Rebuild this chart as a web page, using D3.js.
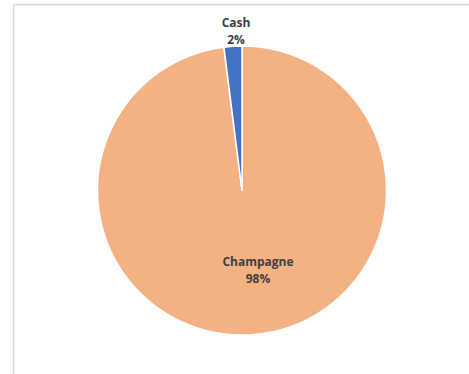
<!DOCTYPE html>
<html>
<head>
<meta charset="utf-8">
<script src="https://cdn.jsdelivr.net/npm/d3@7"></script>
<style>
  html, body { margin: 0; padding: 0; background: #fff; }
  svg { display: block; }
</style>
</head>
<body>
<svg id="chart" width="469" height="374"></svg>
<script>
// Portfolio split
const categories = ["Champagne", "Cash"];
const values = [98, 2];
const colors = ["#F4B183", "#4472C4"];

const svg = d3.select("#chart");
const W = 469, H = 374;

// chart area frame (top and left edges visible)
svg.append("line").attr("x1", 13.5).attr("x2", W).attr("y1", 4.5).attr("y2", 4.5)
  .attr("stroke", "#d9d9d9").attr("stroke-width", 1.5);
svg.append("line").attr("x1", 13.5).attr("x2", 13.5).attr("y1", 4.5).attr("y2", H)
  .attr("stroke", "#d9d9d9").attr("stroke-width", 1.5);

const cx = 242, cy = 190.5, r = 144.5;
const data = categories.map((c, i) => ({ name: c, value: values[i], color: colors[i] }));

const pie = d3.pie().value(d => d.value).sort(null);
const arc = d3.arc().innerRadius(0).outerRadius(r);
const arcs = pie(data);
const total = d3.sum(values);

const g = svg.append("g").attr("transform", `translate(${cx},${cy})`);
g.selectAll("path").data(arcs).join("path")
  .attr("d", arc)
  .attr("fill", d => d.data.color)
  .attr("stroke", "#fff")
  .attr("stroke-width", 1.5)
  .attr("stroke-linejoin", "round");

// data labels: category name over percentage
const font = "'Open Sans', 'Liberation Sans', sans-serif";
function label(x, y, name, pct) {
  const t = svg.append("text")
    .attr("text-anchor", "middle")
    .attr("font-family", font)
    .attr("font-weight", "bold")
    .attr("font-size", 12)
    .attr("fill", "#404040");
  t.append("tspan").attr("x", x).attr("y", y).text(name);
  t.append("tspan").attr("x", x).attr("y", y + 17).text(pct);
}
const pctFmt = v => Math.round(v / total * 100) + "%";

// Champagne label inside the slice, Cash label above the rim
const champ = arcs[0], cash = arcs[1];
label(258, 266, champ.data.name, pctFmt(champ.data.value));
label(236, 27, cash.data.name, pctFmt(cash.data.value));
</script>
</body>
</html>
